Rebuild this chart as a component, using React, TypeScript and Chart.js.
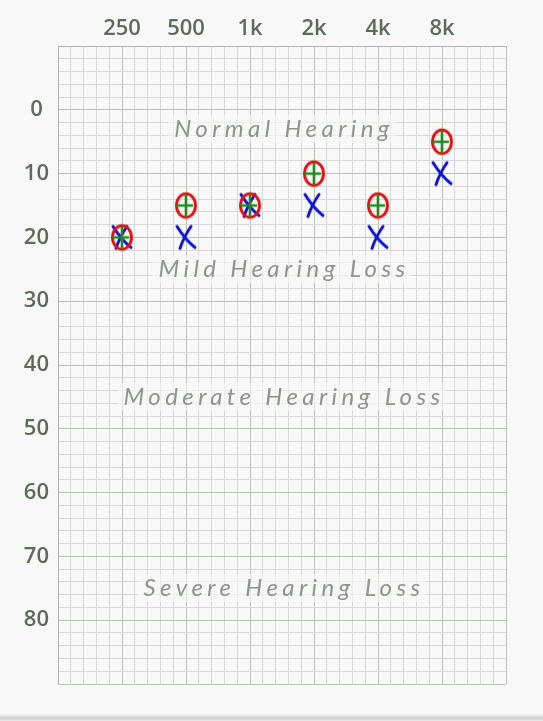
import React, { useEffect, useRef } from "react";
import { Chart, registerables } from "chart.js";

Chart.register(...registerables);

// ---- data ----
const freqLabels = ["250", "500", "1k", "2k", "4k", "8k"];
const freqHz = [250, 500, 1000, 2000, 4000, 8000];
const rightEarAir = [20, 15, 15, 10, 15, 5]; // red O
const rightEarBone = [20, 15, 15, 10, 15, 5]; // green +
const leftEarAir = [20, 20, 15, 15, 20, 10]; // blue X
const dbLabels = [0, 10, 20, 30, 40, 50, 60, 70, 80];
const bandNames = ["Normal Hearing", "Mild Hearing Loss", "Moderate Hearing Loss", "Severe Hearing Loss"];
const bandLevels = [3, 25, 45, 75];

const BASE_HZ = 125;
const octave = (hz: number) => Math.log2(hz / BASE_HZ);

function makeCircle(): HTMLCanvasElement {
  const c = document.createElement("canvas");
  c.width = 26;
  c.height = 30;
  const g = c.getContext("2d")!;
  g.strokeStyle = "#e41212";
  g.lineWidth = 2.9;
  g.beginPath();
  g.ellipse(13, 15, 9.5, 11.8, 0, 0, Math.PI * 2);
  g.stroke();
  return c;
}

function makePlus(): HTMLCanvasElement {
  const c = document.createElement("canvas");
  c.width = 26;
  c.height = 30;
  const g = c.getContext("2d")!;
  g.strokeStyle = "#1f8a1f";
  g.lineWidth = 2.6;
  g.lineCap = "round";
  g.beginPath();
  g.moveTo(13, 5);
  g.lineTo(13, 25);
  g.moveTo(4, 15);
  g.lineTo(19, 15);
  g.stroke();
  return c;
}

function makeX(): HTMLCanvasElement {
  const c = document.createElement("canvas");
  c.width = 26;
  c.height = 30;
  const g = c.getContext("2d")!;
  g.strokeStyle = "#1212dc";
  g.lineWidth = 3;
  g.lineCap = "round";
  g.beginPath();
  g.moveTo(4, 4);
  g.quadraticCurveTo(12, 17, 22, 25);
  g.moveTo(18, 4);
  g.quadraticCurveTo(11, 14, 7, 26);
  g.stroke();
  return c;
}

const bandPlugin = {
  id: "bands",
  beforeDatasetsDraw(chart: any) {
    const { ctx, chartArea, scales } = chart;
    const cx = (chartArea.left + chartArea.right) / 2;
    ctx.save();
    ctx.font = 'italic 400 24px Lato';
    (ctx as any).letterSpacing = "4.4px";
    ctx.textAlign = "center";
    ctx.textBaseline = "middle";
    bandNames.forEach((name, i) => {
      const y = scales.y.getPixelForValue(bandLevels[i]);
      const w = ctx.measureText(name).width;
      ctx.fillStyle = "rgba(248,248,248,0.65)";
      ctx.fillRect(cx - w / 2 - 4, y - 14, w + 8, 28);
      ctx.fillStyle = "#8b9787";
      ctx.fillText(name, cx + 2, y);
    });
    ctx.restore();
  },
};

export default function App() {
  const ref = useRef<HTMLCanvasElement>(null);

  useEffect(() => {
    const circle = makeCircle();
    const plus = makePlus();
    const cross = makeX();
    const pts = (vals: number[]) => vals.map((v, i) => ({ x: octave(freqHz[i]), y: v }));
    const chart = new Chart(ref.current!, {
      type: "scatter",
      data: {
        datasets: [
          { label: "Bone", data: pts(rightEarBone), pointStyle: plus as any, pointRadius: 12 },
          { label: "Right", data: pts(rightEarAir), pointStyle: circle as any, pointRadius: 12 },
          { label: "Left", data: pts(leftEarAir), pointStyle: cross as any, pointRadius: 12 },
        ],
      },
      options: {
        responsive: false,
        animation: false,
        devicePixelRatio: 1,
        layout: { padding: { left: 0, right: 37, top: 0, bottom: 37 } },
        plugins: { legend: { display: false }, tooltip: { enabled: false } },
        scales: {
          x: {
            type: "linear",
            position: "top",
            min: 0,
            max: 7,
            afterFit: (s: any) => {
              s.height = 46;
            },
            ticks: {
              stepSize: 0.2,
              autoSkip: false,
              maxRotation: 0,
              minRotation: 0,
              padding: 4,
              color: "#5d6c59",
              font: { family: "Open Sans", size: 22, weight: "600" },
              callback: (v: any) => {
                const n = Number(v);
                const r = Math.round(n);
                if (Math.abs(n - r) > 1e-6) return "";
                return r >= 1 && r <= freqLabels.length ? freqLabels[r - 1] : "";
              },
            },
            grid: {
              drawTicks: false,
              color: (c: any) => {
                const n = c.tick ? c.tick.value : 0;
                return Math.abs(n - Math.round(n)) < 1e-6 ? "#bcc1ba" : "#d8d8d8";
              },
            },
            border: { display: true, color: "#b3b3b3" },
          },
          y: {
            type: "linear",
            reverse: true,
            min: -10,
            max: 90,
            afterFit: (s: any) => {
              s.width = 58;
            },
            ticks: {
              stepSize: 2,
              autoSkip: false,
              padding: 9,
              crossAlign: "center",
              color: "#5d6c59",
              font: { family: "Open Sans", size: 22, weight: "600" },
              callback: (v: any) => {
                const n = Math.round(Number(v));
                return dbLabels.includes(n) && Math.abs(Number(v) - n) < 1e-6 ? String(n) : "";
              },
            },
            grid: {
              drawTicks: false,
              color: (c: any) => {
                const n = c.tick ? Math.round(c.tick.value) : 0;
                return n % 10 === 0 ? "#bcc1ba" : "#d8d8d8";
              },
            },
            border: { display: true, color: "#b3b3b3" },
          },
        },
      },
      plugins: [bandPlugin],
    });
    return () => chart.destroy();
  }, []);

  return (
    <div style={{ position: "fixed", left: 0, top: 0, width: 543, height: 721, background: "#f8f8f8", overflow: "hidden" }}>
      <canvas ref={ref} width={543} height={721} style={{ display: "block" }} />
      <div
        style={{
          position: "absolute",
          left: 0,
          top: 714,
          width: 543,
          height: 7,
          background: "linear-gradient(to bottom, rgba(0,0,0,0), rgba(0,0,0,0.16) 55%, rgba(0,0,0,0.06))",
        }}
      />
    </div>
  );
}
